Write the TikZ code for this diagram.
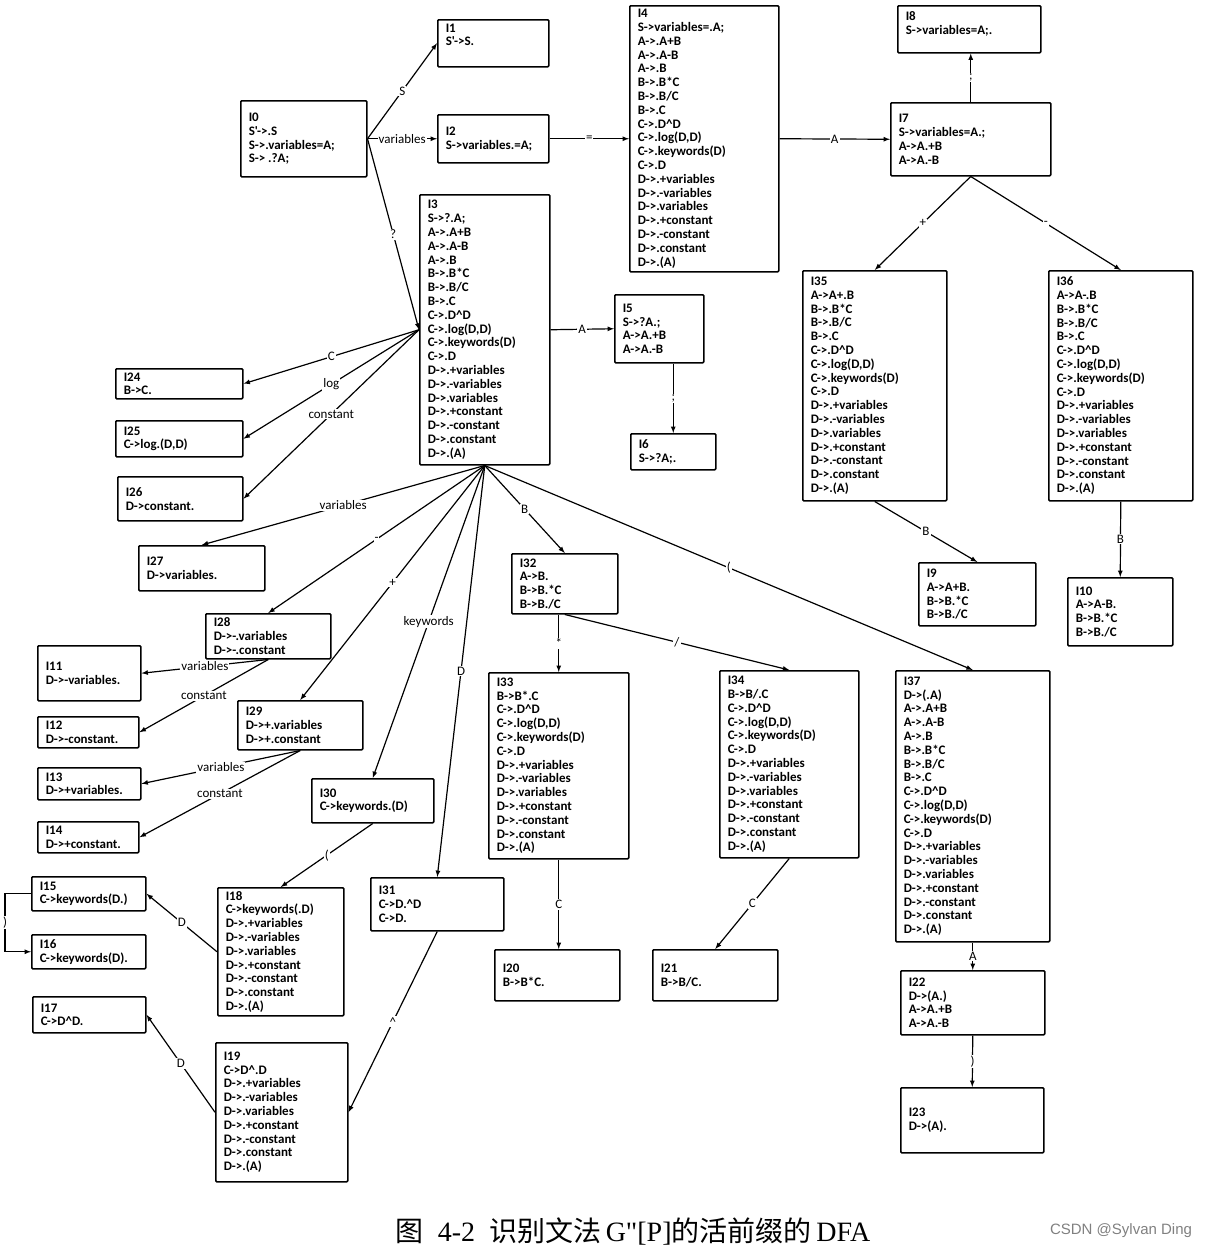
\documentclass[tikz,border=0pt]{standalone}
\usepackage{fontspec}
\setmainfont{Liberation Serif}
\newfontfamily\capfont{Liberation Serif}[Ligatures=TeXOff]
\newfontfamily\boxfont{Carlito}
\newfontfamily\cjk{Noto Sans CJK SC}
\newfontfamily\markfont{Liberation Sans}
\usepackage{tikz}

\tikzset{
  stbox/.style={draw, line width=1.5pt, rounded corners=1pt, anchor=north west,
    inner xsep=8pt, inner ysep=4pt, font=\boxfont\bfseries\fontsize{13}{13.8}\selectfont},
  trans/.style={-latex, line width=1.2pt},
  lbl/.style={fill=white, inner sep=1pt, font=\boxfont\fontsize{13}{14}\selectfont}
}
% item set box: [inner pos]{name}{x}{y}{width}{height}{items}
\newcommand{\mkstate}[7][c]{%
  \node[stbox] (#2) at (#3,#4)
    {\parbox[c][\dimexpr#6pt-8pt\relax][#1]{\dimexpr#5pt-16pt\relax}{\raggedright #7}};}
\newcommand{\Alines}{A->.A+B\\A->.A-B\\A->.B}
\newcommand{\Blines}{B->.B*C\\B->.B/C\\B->.C}
\newcommand{\Clines}{C->.D\textasciicircum D\\C->.log(D,D)\\C->.keywords(D)\\C->.D}
\newcommand{\Dlines}{D->.+variables\\D->.-variables\\D->.variables\\D->.+constant\\D->.-constant\\D->.constant\\D->.(A)}

\begin{document}
\begin{tikzpicture}[x=1pt, y=-1pt]
  \useasboundingbox (0,0) rectangle (1216,1250);
  % top row
  \mkstate{I0}{240}{100}{126}{76}{I0\\S'->.S\\S->.variables=A;\\S-> .?A;}
  \mkstate[t]{I1}{437}{19}{111}{47}{I1\\S'->S.}
  \mkstate{I2}{437}{114}{111}{48}{I2\\S->variables.=A;}
  \mkstate{I3}{419}{194}{130}{270}{I3\\S->?.A;\\\Alines\\\Blines\\\Clines\\\Dlines}
  \mkstate{I4}{629}{5}{149}{266}{I4\\S->variables=.A;\\\Alines\\\Blines\\\Clines\\\Dlines}
  \mkstate{I5}{614}{294}{89}{68}{I5\\S->?A.;\\A->A.+B\\A->A.-B}
  \mkstate{I6}{630}{433}{85}{36}{I6\\S->?A;.}
  \mkstate{I7}{890}{102}{160}{73}{I7\\S->variables=A.;\\A->A.+B\\A->A.-B}
  \mkstate[t]{I8}{897}{5}{143}{47}{\vspace{2pt}I8\\S->variables=A;.}
  \mkstate{I35}{802}{270}{144}{230}{I35\\A->A+.B\\\Blines\\\Clines\\\Dlines}
  \mkstate{I36}{1048}{270}{144}{230}{I36\\A->A-.B\\\Blines\\\Clines\\\Dlines}
  \mkstate{I9}{918}{562}{117}{63}{I9\\A->A+B.\\B->B.*C\\B->B./C}
  \mkstate{I10}{1067}{577}{105}{68}{I10\\A->A-B.\\B->B.*C\\B->B./C}
  % left column
  \mkstate{I24}{115}{368}{127}{30}{I24\\B->C.}
  \mkstate{I25}{115}{420}{127}{36}{I25\\C->log.(D,D)}
  \mkstate{I26}{117}{476}{125}{44}{I26\\D->constant.}
  \mkstate{I27}{138}{545}{126}{45}{I27\\D->variables.}
  \mkstate{I28}{205}{613}{125}{45}{I28\\D->-.variables\\D->-.constant}
  \mkstate{I29}{237}{700}{125}{49}{I29\\D->+.variables\\D->+.constant}
  \mkstate{I11}{37}{645}{103}{55}{I11\\D->-variables.}
  \mkstate{I12}{37}{716}{101}{31}{I12\\D->-constant.}
  \mkstate{I13}{37}{767}{103}{32}{I13\\D->+variables.}
  \mkstate{I14}{37}{821}{101}{31}{I14\\D->+constant.}
  \mkstate{I30}{311}{778}{122}{44}{I30\\C->keywords.(D)}
  \mkstate{I31}{370}{877}{133}{53}{I31\\C->D.\textasciicircum D\\C->D.}
  \mkstate{I18}{217}{887}{126}{128}{I18\\C->keywords(.D)\\\Dlines}
  \mkstate{I15}{31}{876}{114}{34}{I15\\C->keywords(D.)}
  \mkstate{I16}{31}{934}{114}{34}{I16\\C->keywords(D).}
  \mkstate{I17}{32}{996}{113}{36}{I17\\C->D\textasciicircum D.}
  \mkstate{I19}{215}{1042}{132}{139}{I19\\C->D\textasciicircum.D\\\Dlines}
  % middle
  \mkstate{I32}{511}{553}{106}{60}{I32\\A->B.\\B->B.*C\\B->B./C}
  \mkstate{I33}{488}{672}{140}{186}{I33\\B->B*.C\\\Clines\\\Dlines}
  \mkstate{I34}{719}{670}{139}{187}{I34\\B->B/.C\\\Clines\\\Dlines}
  \mkstate{I20}{494}{949}{125}{51}{I20\\B->B*C.}
  \mkstate{I21}{652}{949}{125}{51}{I21\\B->B/C.}
  \mkstate{I37}{895}{670}{154}{271}{I37\\D->(.A)\\\Alines\\\Blines\\\Clines\\\Dlines}
  \mkstate{I22}{900}{970}{144}{64}{I22\\D->(A.)\\A->A.+B\\A->A.-B}
  \mkstate{I23}{900}{1087}{143}{65}{I23\\D->(A).}

  % transitions
  \draw[trans] (I0.east) -- node[lbl] {S} (I1.west);
  \draw[trans] (I0.east) -- node[lbl] {variables} (I2.west);
  \draw[trans] (I0.east) -- node[lbl] {?} (I3.west);
  \draw[trans] (I2.east) -- node[lbl] {=} (I4.west);
  \draw[trans] (I4.east) -- node[lbl] {A} (I7.west);
  \draw[trans] (I7.north) -- node[lbl] {;} (I7.north |- I8.south);
  \draw[trans] (I7.south) -- node[lbl] {+} (I35.north);
  \draw[trans] (I7.south) -- node[lbl] {-} (I36.north);
  \draw[trans] (I35.south) -- node[lbl] {B} (I9.north);
  \draw[trans] (I36.south) -- node[lbl] {B} (I10.north);
  \draw[trans] (I3.east) -- node[lbl] {A} (I5.west);
  \draw[trans] (I6.north |- I5.south) -- node[lbl] {;} (I6.north);
  \draw[trans] (I3.west) -- node[lbl] {C} (I24.east);
  \draw[trans] (I3.west) -- node[lbl] {log} (I25.east);
  \draw[trans] (I3.west) -- node[lbl] {constant} (I26.east);
  \draw[trans] (I3.south) -- node[lbl] {variables} (I27.north);
  \draw[trans] (I3.south) -- node[lbl] {-} (I28.north);
  \draw[trans] (I3.south) -- node[lbl] {+} (I29.north);
  \draw[trans] (I3.south) -- node[lbl] {keywords} (I30.north);
  \draw[trans] (I3.south) -- node[lbl] {D} (I31.north);
  \draw[trans] (I3.south) -- node[lbl] {B} (I32.north);
  \draw[trans] (I3.south) -- node[lbl] {(} (I37.north);
  \draw[trans] (I28.south) -- node[lbl] {variables} (I11.east);
  \draw[trans] (I28.south) -- node[lbl] {constant} (I12.east);
  \draw[trans] (I29.south) -- node[lbl] {variables} (I13.east);
  \draw[trans] (I29.south) -- node[lbl] {constant} (I14.east);
  \draw[trans] (I30.south) -- node[lbl] {(} (I18.north);
  \draw[trans] (I18.west) -- node[lbl] {D} (I15.east);
  \draw[trans] (I15.west) -- ++(-26,0) |- node[lbl, pos=0.25] {)} (I16.west);
  \draw[trans] (I31.south) -- node[lbl] {\textasciicircum} (I19.east);
  \draw[trans] (I19.west) -- node[lbl] {D} (I17.east);
  \draw[trans] (I33.north |- I32.south) -- node[lbl] {*} (I33.north);
  \draw[trans] (I32.south) -- node[lbl] {/} (I34.north);
  \draw[trans] (I33.south) -- node[lbl] {C} (I33.south |- I20.north);
  \draw[trans] (I34.south) -- node[lbl] {C} (I21.north);
  \draw[trans] (I37.south) -- node[lbl] {A} (I22.north);
  \draw[trans] (I22.south) -- node[lbl] {)} (I23.north);

  % caption
  \node[font=\capfont\fontsize{28}{30}\selectfont] (caption) at (633,1231)
    {{\cjk 图}\ \ 4-2\ \ {\cjk 识别文法}\,G"[P]{\cjk 的活前缀的}\,DFA};
  \node[font=\markfont\fontsize{15}{16}\selectfont, text=gray] (mark) at (1121,1231) {CSDN @Sylvan Ding};
\end{tikzpicture}
\end{document}
